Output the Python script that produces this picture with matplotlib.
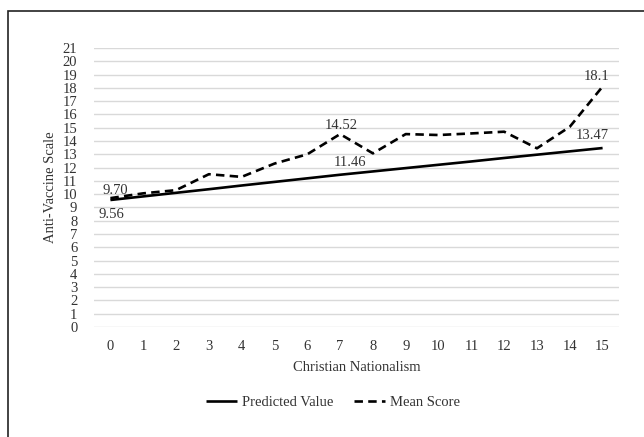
import matplotlib
matplotlib.use('Agg')
from matplotlib import pyplot as plt
from matplotlib.patches import Rectangle

# values
nationalism = list(range(16))
predicted = [9.56, 9.83, 10.10, 10.37, 10.65, 10.92, 11.19, 11.46,
             11.71, 11.96, 12.21, 12.46, 12.72, 12.97, 13.22, 13.47]
mean_score = [9.70, 10.06, 10.30, 11.50, 11.30, 12.30, 13.00, 14.52,
              13.07, 14.52, 14.45, 14.57, 14.70, 13.45, 15.07, 18.10]
y_ticks = list(range(22))

TXT = '#333333'
plt.rcParams['font.family'] = ['Liberation Serif', 'DejaVu Serif']
plt.rcParams['font.size'] = 10.5

fig = plt.figure(figsize=(6.44, 4.37), dpi=100)
ax = fig.add_axes([94 / 644, 1 - 327 / 437, 525 / 644, 279 / 437])

ax.plot(nationalism, predicted, color='black', lw=1.9,
        solid_capstyle='butt', label='Predicted Value')
ax.plot(nationalism, mean_score, color='black', lw=1.9,
        linestyle=(0, (3.2, 2.0)), label='Mean Score')

# data labels at both ends and at x=7
labels = [
    (0, mean_score[0], '9.70', (5, 8)),
    (0, predicted[0], '9.56', (1, -15)),
    (7, mean_score[7], '14.52', (1, 9)),
    (7, predicted[7], '11.46', (10, 12)),
    (15, mean_score[15], '18.1', (-6, 10)),
    (15, predicted[15], '13.47', (-10, 13)),
]
for x, y, txt, off in labels:
    ax.annotate(txt, (x, y), xytext=off, textcoords='offset pixels',
                ha='center', va='center', color=TXT, fontsize=10.5)

ax.set_xlim(-0.5, 15.5)
ax.set_ylim(0, 21)
ax.set_xticks(nationalism)
ax.set_yticks(y_ticks)
ax.yaxis.grid(True, color='#d9d9d9', lw=1)
ax.set_axisbelow(True)
for s in ax.spines.values():
    s.set_visible(False)
ax.tick_params(axis='both', length=0, colors=TXT, labelsize=10.5)
ax.tick_params(axis='y', pad=12)
ax.tick_params(axis='x', pad=9)
ax.set_xlabel('Christian Nationalism', color=TXT, labelpad=6)
ax.set_ylabel('Anti-Vaccine Scale', color=TXT, labelpad=4)

fig.legend(loc='center', bbox_to_anchor=(333 / 644, 1 - 402 / 437),
           ncol=2, frameon=False, handlelength=2.1, handletextpad=0.35,
           columnspacing=1.4, fontsize=10.5, labelcolor=TXT)

# outer chart border (cropped at right and bottom)
fig.patches.append(Rectangle((8 / 644, -0.1), 1.1, 1 - 11 / 437 + 0.1,
                             transform=fig.transFigure, fill=False,
                             edgecolor='#222222', lw=1.2))

fig.savefig('out.png', dpi=100)
